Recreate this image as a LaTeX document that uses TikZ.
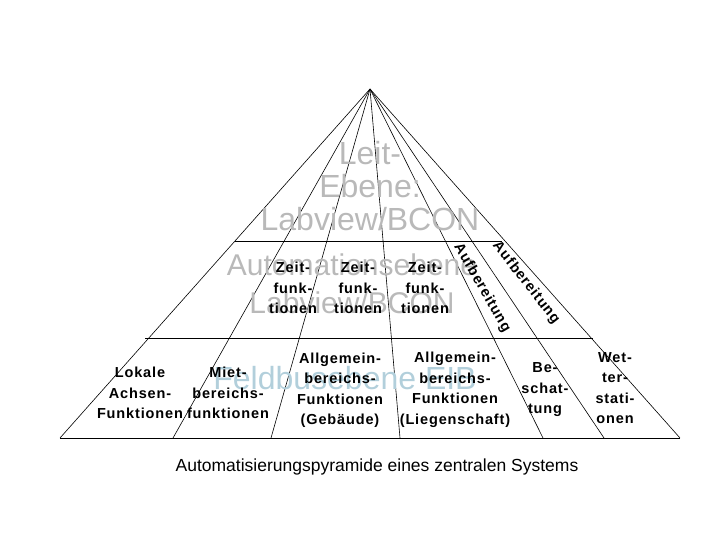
\documentclass[tikz,border=0pt]{standalone}
\usepackage{fontspec}
\setmainfont{Liberation Sans}
\newfontfamily\labfont[LetterSpace=6]{Liberation Sans}
\begin{document}
\begin{tikzpicture}[x=1pt,y=-1pt,
 ln/.style={black,line width=0.6pt},
 big/.style={text=gray!55,font=\fontsize{32}{33}\selectfont,align=center,inner sep=0},
 lab/.style={font=\labfont\fontsize{14.5}{20.5}\selectfont\bfseries,align=center,inner sep=0}]
\useasboundingbox (0,0) rectangle (720,540);
\coordinate (A) at (370,89);
\foreach \n/\x in {b0/60,b1/173,b2/271,b3/400,b4/543,b5/604,b6/680}{\coordinate (\n) at (\x,438);}
\foreach \n in {b0,b1,b2,b3,b4,b5,b6}{\draw[ln] (A) -- (\n);}
\coordinate (h1l) at (235,241); \coordinate (h1r) at (502,241);
\coordinate (h2l) at (145,338); \coordinate (h2r) at (593,338);
\draw[ln] (h1l) -- (h1r);
\draw[ln] (h2l) -- (h2r);
\draw[ln] (b0) -- (b6);
\node[big] (t1) at (370,186) {Leit-\\Ebene:\\Labview/BCON};
\node[big,font=\fontsize{30}{38}\selectfont] (t2) at (352,284) {Automationsebene\\Labview/BCON};
\node[big,text=cyan!40!gray!50] (t3) at (345,378) {Feldbusebene EIB};
\node[lab] (z1) at (293,288) {Zeit-\\funk-\\tionen};
\node[lab] (z2) at (358,288) {Zeit-\\funk-\\tionen};
\node[lab] (z3) at (425,288) {Zeit-\\funk-\\tionen};
\node[lab,rotate=-60] (a1) at (482,288) {Aufbereitung};
\node[lab,rotate=-52] (a2) at (526,283) {Aufbereitung};
\node[lab] (l1) at (140,393) {Lokale\\Achsen-\\Funktionen};
\node[lab] (l2) at (228,393) {Miet-\\bereichs-\\funktionen};
\node[lab] (l3) at (340,390) {Allgemein-\\bereichs-\\Funktionen\\(Gebäude)};
\node[lab] (l4) at (455,390) {Allgemein-\\bereichs-\\Funktionen\\(Liegenschaft)};
\node[lab] (l5) at (545,390) {Be-\\schat-\\tung};
\node[lab] (l6) at (615,388) {Wet-\\ter-\\stati-\\onen};
\node[font=\fontsize{17.5}{20}\selectfont] (cap) at (377,467) {Automatisierungspyramide eines zentralen Systems};
\end{tikzpicture}
\end{document}
